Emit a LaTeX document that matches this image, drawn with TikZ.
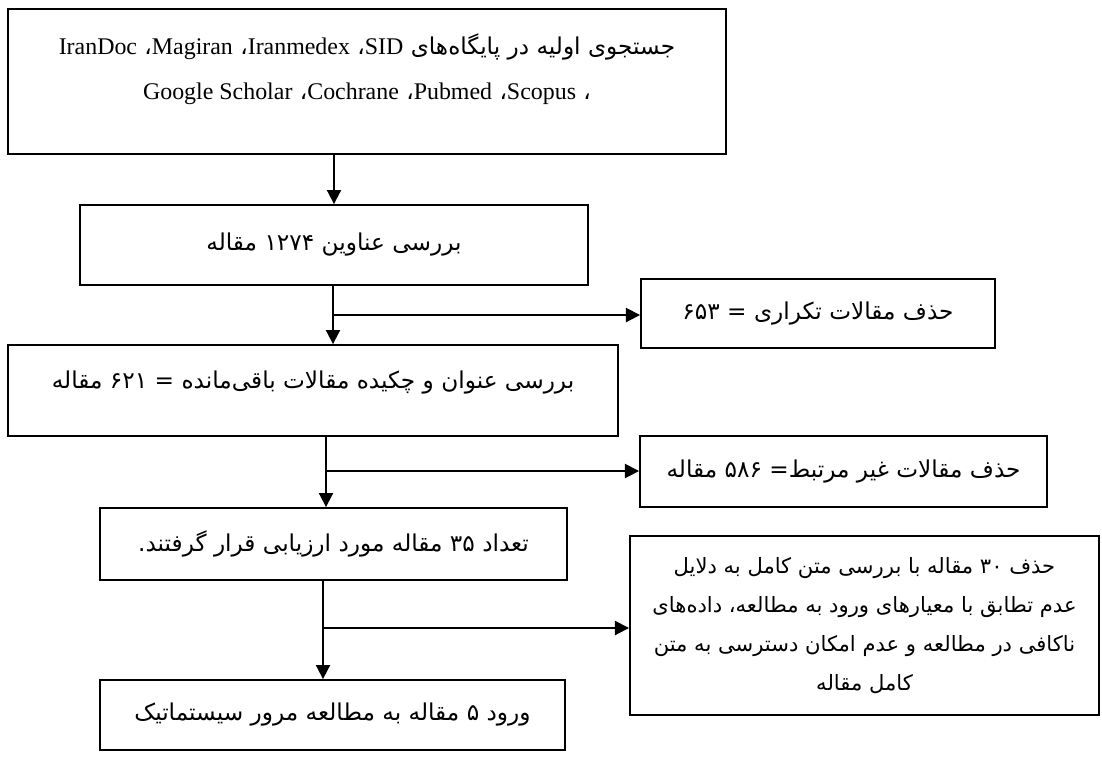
\documentclass[tikz,border=0pt]{standalone}
\usepackage{fontspec}
\setmainfont{Liberation Serif}
\newfontfamily\persianfont[Script=Arabic]{DejaVu Sans}
\TeXXeTstate=1
\usetikzlibrary{arrows.meta}

\newcommand{\fatxt}[1]{{\persianfont\beginR #1\endR}}
\newcommand{\en}[1]{{\rmfamily\fontsize{17}{20}\selectfont #1}}

\begin{document}
\begin{tikzpicture}[x=0.025cm,y=-0.025cm,>={Triangle[length=10pt,width=10pt]}]
	\useasboundingbox (0,0) rectangle (1102,758);
	\begin{scope}[every node/.style={rectangle,draw,line width=1.3pt,inner sep=0pt,align=center,font=\fontsize{16.5}{27.7}\selectfont}]
		\node (search) at (367,81.5) [minimum width=17.95cm,minimum height=3.625cm] {\parbox[c][2.4cm][t]{17cm}{\centering\fontsize{16.5}{32}\selectfont
			\fatxt{جستجوی اولیه در پایگاه‌های \en{SID}، \en{Iranmedex}، \en{Magiran}، \en{IranDoc}}\\
			\fatxt{، \en{Scopus}، \en{Pubmed}، \en{Cochrane}، \beginL\en{Google Scholar}\endL}}};
		\node (titles) at (334,245) [minimum width=12.7cm,minimum height=2cm] {\fatxt{بررسی عناوین ۱۲۷۴ مقاله}};
		\node (dup) at (818,313.5) [minimum width=8.85cm,minimum height=1.725cm] {\fatxt{حذف مقالات تکراری = ۶۵۳}};
		\node (abstracts) at (313,390.5) [minimum width=15.25cm,minimum height=2.275cm,text depth=16pt] {\fatxt{بررسی عنوان و چکیده مقالات باقی‌مانده = ۶۲۱ مقاله}};
		\node (irrelevant) at (843.5,471.5) [minimum width=10.175cm,minimum height=1.775cm] {\fatxt{حذف مقالات غیر مرتبط= ۵۸۶ مقاله}};
		\node (assessed) at (333.5,544) [minimum width=11.675cm,minimum height=1.8cm] {\fatxt{تعداد ۳۵ مقاله مورد ارزیابی قرار گرفتند.}};
		\node (fulltext) at (864.5,625.5) [minimum width=11.725cm,minimum height=4.475cm,font=\fontsize{15}{27.7}\selectfont] {\fatxt{حذف ۳۰ مقاله با بررسی متن کامل به دلایل}\\
			\fatxt{عدم تطابق با معیارهای ورود به مطالعه، داده‌های}\\
			\fatxt{ناکافی در مطالعه و عدم امکان دسترسی به متن}\\
			\fatxt{کامل مقاله}};
		\node (included) at (332.5,715) [minimum width=11.625cm,minimum height=1.75cm] {\fatxt{ورود ۵ مقاله به مطالعه مرور سیستماتیک}};
	\end{scope}
	
	% branch points
	\coordinate (j1) at (333,315);
	\coordinate (j2) at (326,471);
	\coordinate (j3) at (323,628);
	
	\begin{scope}[every edge/.style={draw=black,line width=1.3pt}]
		\path [->] (search.south -| titles.north) edge (titles.north);
		\path [->] (titles.south -| j1) edge (j1 |- abstracts.north);
		\path [->] (j1) edge (j1 -| dup.west);
		\path [->] (abstracts.south -| j2) edge (j2 |- assessed.north);
		\path [->] (j2) edge (j2 -| irrelevant.west);
		\path [->] (assessed.south -| j3) edge (j3 |- included.north);
		\path [->] (j3) edge (j3 -| fulltext.west);
	\end{scope}
\end{tikzpicture}
\end{document}
